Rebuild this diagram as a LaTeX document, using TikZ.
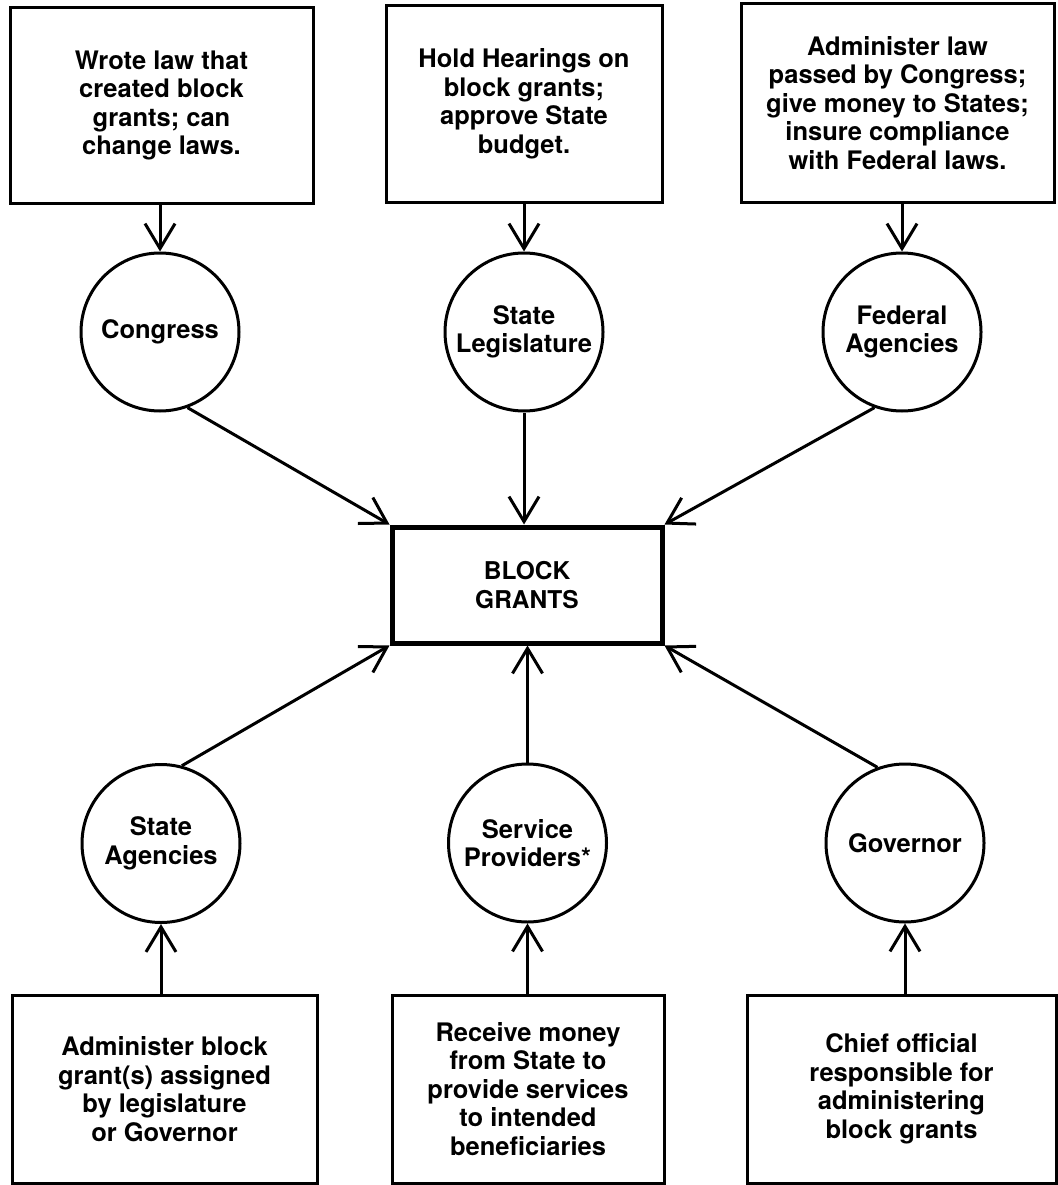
\documentclass[tikz,border=0pt]{standalone}
\usepackage{fontspec}
\setmainfont{TeX Gyre Heros}
\usetikzlibrary{arrows.meta, calc}

\begin{document}
\begin{tikzpicture}
    [x=1pt, y=-1pt,
    note/.style={rectangle, draw=black, line width=3pt, align=center, inner sep=0pt, font=\bfseries\fontsize{25.5}{28.5}\selectfont},
    actor/.style={circle, draw=black, line width=3pt, minimum size=158pt, inner sep=0pt, align=center, font=\bfseries\fontsize{25.5}{28.5}\selectfont},
    grant/.style={rectangle, draw=black, line width=5pt, minimum width=270pt, minimum height=116pt, align=center, font=\bfseries\fontsize{24.5}{28.5}\selectfont},
    arr/.style={line width=3pt, -{Straight Barb[length=25pt, width=30pt]}}]
\useasboundingbox[fill=white] (0,0) rectangle (1057,1185);
\node[note, minimum width=303pt, minimum height=195pt] (wrote) at (161.5,105.5) {Wrote law that\\created block\\grants; can\\change laws.};
\node[note, minimum width=276pt, minimum height=196pt] (hold) at (524,104) {Hold Hearings on\\block grants;\\approve State\\budget.};
\node[note, minimum width=313pt, minimum height=198pt] (admlaw) at (897.5,103) {Administer law\\passed by Congress;\\give money to States;\\insure compliance\\with Federal laws.};
\node[actor] (cong) at (160,332) {Congress};
\node[actor] (leg) at (524,332) {State\\Legislature};
\node[actor] (fed) at (902,332) {Federal\\Agencies};
\node[grant] (bg) at (527,585) {BLOCK\\GRANTS};
\node[actor] (stag) at (161,843.5) {State\\Agencies};
\node[actor] (serv) at (527.5,843) {Service\\Providers*};
\node[actor] (gov) at (905,843) {Governor};
\node[note, minimum width=305pt, minimum height=188pt] (admbg) at (164.5,1089) {Administer block\\grant(s) assigned\\by legislature\\or Governor};
\node[note, minimum width=272pt, minimum height=188pt] (recv) at (528,1089) {Receive money\\from State to\\provide services\\to intended\\beneficiaries};
\node[note, minimum width=309pt, minimum height=188pt] (chief) at (901.5,1089) {Chief official\\responsible for\\administering\\block grants};
\draw[arr] (wrote.south -| cong) -- (cong);
\draw[arr] (hold.south -| leg) -- (leg);
\draw[arr] (admlaw.south -| fed) -- (fed);
\draw[arr] (cong.-70) -- (bg.north west);
\draw[arr] (leg) -- (leg |- bg.north);
\draw[arr] (fed.-110) -- (bg.north east);
\draw[arr] (stag.75) -- (bg.south west);
\draw[arr] (serv) -- (serv |- bg.south);
\draw[arr] (gov.110) -- (bg.south east);
\draw[arr] (admbg.north -| stag) -- (stag);
\draw[arr] (recv.north -| serv) -- (serv);
\draw[arr] (chief.north -| gov) -- (gov);
\end{tikzpicture}
\end{document}
